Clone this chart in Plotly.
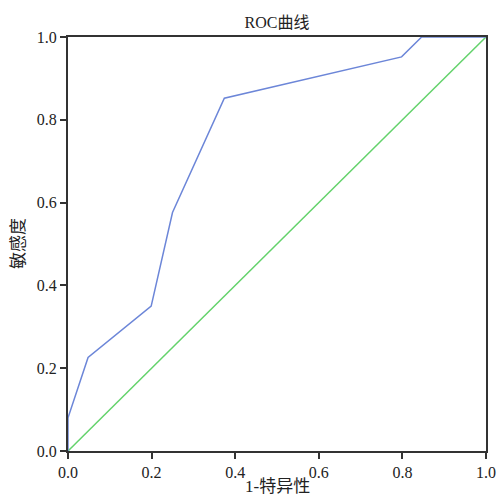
import plotly.graph_objects as go

fpr = [0.0, 0.0, 0.048, 0.199, 0.25, 0.374, 0.798, 0.846, 1.0]
tpr = [0.0, 0.08, 0.226, 0.35, 0.576, 0.852, 0.952, 1.0, 1.0]
ref_x = [0.0, 1.0]
ref_y = [0.0, 1.0]
ticks = [0.0, 0.2, 0.4, 0.6, 0.8, 1.0]

FONT = "Liberation Serif, DejaVu Serif, Noto Sans CJK SC, serif"

fig = go.Figure()
fig.add_trace(go.Scatter(x=ref_x, y=ref_y, mode="lines",
                         line=dict(color="#63d26b", width=1.5), showlegend=False))
fig.add_trace(go.Scatter(x=fpr, y=tpr, mode="lines",
                         line=dict(color="#6c86d8", width=1.5), showlegend=False))

axis_common = dict(
    range=[0, 1], tickvals=ticks, ticktext=[f"{t:.1f}" for t in ticks],
    showgrid=False, zeroline=False, showline=True, linecolor="#333333", linewidth=2,
    mirror=True, ticks="outside", ticklen=6, tickwidth=1.5, tickcolor="#333333",
    tickfont=dict(family=FONT, size=16, color="#222222"), automargin=False,
)

fig.update_layout(
    width=497, height=495,
    margin=dict(l=68, r=11, t=37, b=44, autoexpand=False),
    paper_bgcolor="white", plot_bgcolor="white",
    title=dict(text="ROC曲线", x=0.5, xanchor="center", xref="paper", y=473/495, yanchor="middle",
               font=dict(family=FONT, size=16, color="#222222")),
    xaxis=dict(**axis_common),
    yaxis=dict(**axis_common),
    annotations=[
        dict(text="1-特异性", xref="paper", yref="paper", x=0.5, y=-35/414,
             xanchor="center", yanchor="middle", showarrow=False,
             font=dict(family=FONT, size=17, color="#222222")),
        dict(text="敏感度", xref="paper", yref="paper", x=-50/418, y=0.5,
             xanchor="center", yanchor="middle", showarrow=False, textangle=-90,
             font=dict(family=FONT, size=17, color="#222222")),
    ],
)

fig.write_html("out.html", config={"displayModeBar": False},
               post_script="document.body.style.margin='0';document.body.style.padding='0';")
